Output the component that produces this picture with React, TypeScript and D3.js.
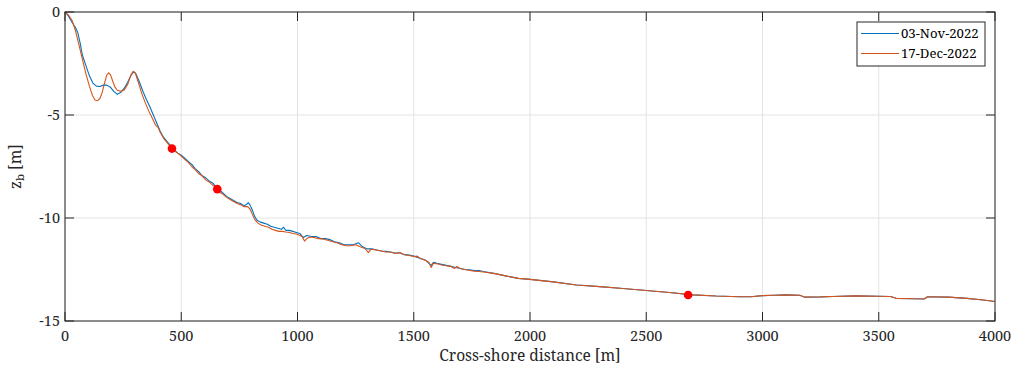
import React from "react";
import * as d3 from "d3";

const seriesNames = ["03-Nov-2022", "17-Dec-2022"];
const seriesColors = ["#0072BD", "#D95319"];

const offshore: [number, number][] = [
  [1850, -12.7], [1900, -12.82], [1950, -12.93], [2000, -12.98], [2100, -13.1], [2200, -13.25],
  [2300, -13.33], [2400, -13.42], [2500, -13.52], [2600, -13.62], [2700, -13.73], [2800, -13.79],
  [2900, -13.82], [2950, -13.82], [3000, -13.77], [3050, -13.75], [3100, -13.73], [3160, -13.75],
  [3180, -13.84], [3250, -13.83], [3300, -13.81], [3400, -13.78], [3500, -13.8], [3550, -13.81],
  [3575, -13.9], [3650, -13.92], [3695, -13.93], [3710, -13.82], [3800, -13.84], [3880, -13.9],
  [3950, -13.98], [4000, -14.05],
];

const novProfile: [number, number][] = [
  [0, 0], [15, -0.2], [30, -0.5], [45, -0.75], [55, -1.0], [65, -1.5], [75, -2.1], [90, -2.6],
  [105, -3.1], [120, -3.45], [135, -3.6], [150, -3.62], [165, -3.55], [180, -3.55], [195, -3.65],
  [210, -3.85], [225, -4.0], [240, -3.9], [255, -3.7], [270, -3.4], [285, -3.05], [295, -2.9],
  [305, -3.0], [320, -3.4], [335, -3.85], [350, -4.25], [365, -4.6], [380, -5.0], [395, -5.4],
  [410, -5.8], [425, -6.1], [440, -6.3], [455, -6.5], [470, -6.7], [485, -6.85], [500, -6.95],
  [515, -7.1], [530, -7.25], [545, -7.4], [560, -7.6], [575, -7.75], [590, -7.95], [605, -8.05],
  [620, -8.2], [635, -8.3], [650, -8.5], [665, -8.65], [680, -8.8], [695, -8.95], [710, -9.05],
  [725, -9.15], [740, -9.25], [755, -9.3], [770, -9.4], [780, -9.35], [788, -9.25], [795, -9.35],
  [805, -9.6], [815, -9.9], [825, -10.1], [840, -10.2], [855, -10.25], [870, -10.3], [885, -10.4],
  [900, -10.45], [915, -10.5], [930, -10.55], [940, -10.45], [950, -10.6], [965, -10.6],
  [980, -10.65], [995, -10.7], [1010, -10.75], [1025, -10.95], [1040, -10.85], [1060, -10.9],
  [1080, -10.9], [1100, -11.0], [1120, -11.0], [1140, -11.05], [1160, -11.15], [1180, -11.2],
  [1200, -11.3], [1220, -11.3], [1240, -11.3], [1262, -11.2], [1280, -11.4], [1300, -11.5],
  [1320, -11.5], [1340, -11.55], [1360, -11.6], [1380, -11.62], [1400, -11.65], [1420, -11.7],
  [1440, -11.7], [1460, -11.78], [1480, -11.8], [1500, -11.85], [1520, -11.93], [1540, -12.0],
  [1555, -12.08], [1565, -12.2], [1575, -12.3], [1585, -12.15], [1600, -12.2], [1620, -12.25],
  [1640, -12.3], [1660, -12.35], [1680, -12.4], [1700, -12.45], [1720, -12.5], [1740, -12.52],
  [1760, -12.55], [1780, -12.55], [1800, -12.6],
];

const decProfile: [number, number][] = [
  [0, 0], [15, -0.15], [30, -0.4], [45, -0.9], [60, -1.6], [75, -2.3], [90, -3.0], [105, -3.6],
  [118, -4.05], [130, -4.28], [140, -4.3], [150, -4.2], [160, -3.9], [170, -3.45], [180, -3.05],
  [188, -2.95], [196, -3.05], [205, -3.35], [215, -3.65], [225, -3.8], [240, -3.85], [255, -3.78],
  [270, -3.5], [282, -3.1], [293, -2.88], [302, -2.95], [315, -3.4], [330, -3.95], [345, -4.4],
  [360, -4.8], [375, -5.15], [390, -5.5], [400, -5.6], [410, -5.85], [425, -6.15], [440, -6.35],
  [455, -6.55], [470, -6.75], [485, -6.85], [500, -7.0], [515, -7.15], [530, -7.3], [545, -7.5],
  [560, -7.65], [575, -7.85], [590, -7.95], [605, -8.15], [620, -8.25], [635, -8.4], [650, -8.55],
  [665, -8.75], [680, -8.85], [695, -9.0], [710, -9.1], [725, -9.2], [740, -9.3], [755, -9.35],
  [770, -9.45], [785, -9.45], [795, -9.55], [805, -9.8], [815, -10.05], [830, -10.25],
  [845, -10.35], [860, -10.4], [875, -10.45], [890, -10.55], [905, -10.6], [920, -10.65],
  [935, -10.65], [950, -10.68], [965, -10.7], [980, -10.75], [995, -10.78], [1010, -10.85],
  [1020, -10.9], [1030, -11.12], [1040, -11.0], [1055, -10.92], [1070, -10.95], [1090, -11.0],
  [1110, -11.02], [1130, -11.08], [1150, -11.15], [1170, -11.2], [1190, -11.3], [1210, -11.35],
  [1230, -11.35], [1250, -11.3], [1270, -11.4], [1290, -11.48], [1305, -11.68], [1315, -11.52],
  [1340, -11.55], [1360, -11.6], [1380, -11.65], [1400, -11.65], [1420, -11.72], [1440, -11.68],
  [1460, -11.78], [1480, -11.82], [1500, -11.87], [1515, -11.85], [1530, -11.98], [1550, -12.05],
  [1565, -12.15], [1575, -12.4], [1585, -12.2], [1600, -12.22], [1620, -12.28], [1640, -12.32],
  [1660, -12.35], [1675, -12.45], [1685, -12.35], [1700, -12.45], [1720, -12.5], [1740, -12.55],
  [1760, -12.58], [1780, -12.6], [1800, -12.62],
];

const markerPoints: [number, number][] = [[460, -6.63], [655, -8.6], [2680, -13.74]];

const xTicks = [0, 500, 1000, 1500, 2000, 2500, 3000, 3500, 4000];
const yTicks = [0, -5, -10, -15];

const W = 1012, H = 369;
const L = 65, R = 995, T = 12, B = 321;
const FONT = "Noto Serif";
const AX = "#262626";

export default function App() {
  const x = d3.scaleLinear().domain([0, 4000]).range([L, R]);
  const y = d3.scaleLinear().domain([-15, 0]).range([B, T]);
  const line = d3.line<[number, number]>().x((d) => x(d[0])).y((d) => y(d[1]));
  const series = [novProfile.concat(offshore), decProfile.concat(offshore)];
  const tl = 9;
  return (
    <svg width={W} height={H} style={{ position: "absolute", left: 0, top: 0, background: "#fff" }}>
      <rect x={0} y={0} width={W} height={H} fill="#fff" />
      {xTicks.map((t) => (
        <line key={"gx" + t} x1={x(t)} x2={x(t)} y1={T} y2={B} stroke="#e3e3e3" strokeWidth={1} />
      ))}
      {yTicks.map((t) => (
        <line key={"gy" + t} x1={L} x2={R} y1={y(t)} y2={y(t)} stroke="#e3e3e3" strokeWidth={1} />
      ))}
      {series.map((s, i) => (
        <path key={i} d={line(s) || ""} fill="none" stroke={seriesColors[i]} strokeWidth={1.1} strokeLinejoin="round" />
      ))}
      {markerPoints.map((p, i) => (
        <circle key={i} cx={x(p[0])} cy={y(p[1])} r={4.3} fill="#ff0000" />
      ))}
      <rect x={L} y={T} width={R - L} height={B - T} fill="none" stroke={AX} strokeWidth={1} />
      {xTicks.map((t) => (
        <g key={"tx" + t}>
          <line x1={x(t)} x2={x(t)} y1={B} y2={B - tl} stroke={AX} />
          <line x1={x(t)} x2={x(t)} y1={T} y2={T + tl} stroke={AX} />
          <text x={x(t)} y={341} textAnchor="middle" fontFamily={FONT} fontSize={14.5} fill={AX}>{t}</text>
        </g>
      ))}
      {yTicks.map((t) => (
        <g key={"ty" + t}>
          <line x1={L} x2={L + tl} y1={y(t)} y2={y(t)} stroke={AX} />
          <line x1={R} x2={R - tl} y1={y(t)} y2={y(t)} stroke={AX} />
          <text x={60} y={y(t) + 5} textAnchor="end" fontFamily={FONT} fontSize={14.5} fill={AX}>{t}</text>
        </g>
      ))}
      <text x={(L + R) / 2} y={361} textAnchor="middle" fontFamily={FONT} fontSize={15.5} fill={AX}>Cross-shore distance [m]</text>
      <text transform={`translate(21,${(T + B) / 2}) rotate(-90)`} textAnchor="middle" fontFamily={FONT} fontSize={15.5} fill={AX}>
        z<tspan fontSize={11.5} dy={3}>b</tspan><tspan dy={-3}> [m]</tspan>
      </text>
      <g>
        <rect x={857} y={22} width={128} height={44} fill="#fff" stroke={AX} strokeWidth={1} />
        {seriesNames.map((n, i) => (
          <g key={n}>
            <line x1={861} x2={899} y1={33.5 + i * 20} y2={33.5 + i * 20} stroke={seriesColors[i]} strokeWidth={1.1} />
            <text x={901} y={37.5 + i * 20} fontFamily={FONT} fontSize={13.2} fill="#000">{n}</text>
          </g>
        ))}
      </g>
    </svg>
  );
}
